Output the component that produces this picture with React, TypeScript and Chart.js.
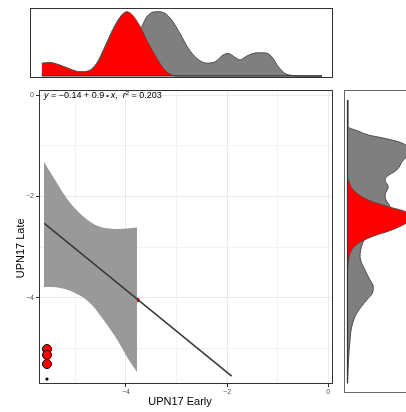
import React, { useEffect, useRef } from 'react';
import { Chart, registerables } from 'chart.js';

Chart.register(...registerables);

const FONT = '"Liberation Sans", Arial, Helvetica, sans-serif';

// ---------- main panel data ----------
const bandX = [-5.619, -5.46, -5.302, -5.144, -4.986, -4.828, -4.67, -4.512, -4.314, -4.156, -3.978, -3.781];
const bandUpper = [-1.322, -1.579, -1.835, -2.072, -2.26, -2.408, -2.526, -2.599, -2.635, -2.645, -2.635, -2.615];
const bandLower = [-3.789, -3.789, -3.809, -3.848, -3.918, -4.006, -4.144, -4.342, -4.618, -4.855, -5.171, -5.467];

const fitX = [-5.613, -1.909];
const fitY = [-2.532, -5.546];

const pointX = [-5.559, -5.559, -5.559];
const pointY = [-5.013, -5.131, -5.309];

const dotX = [-5.559];
const dotY = [-5.605];

const markX = [-3.771];
const markY = [-4.046];

const majorTicks = [-4, -2, 0];
const majorLabels = ['\u22124', '\u22122', '0'];

const xTitle = 'UPN17 Early';
const yTitle = 'UPN17 Late';
const eqIntercept = '\u22120.14';
const eqSlope = '0.9';
const eqR2 = '0.203';

// ---------- top marginal density (UPN17 Early) ----------
const topRedX = [0, 2.96, 6.53, 10.1, 13.66, 16.63, 19.62, 22.58, 25.54, 28.54, 30.32, 32.11, 35.07, 38.03, 41.03, 43.38, 45.77, 48.16, 100];
const topRedY = [0.2, 0.21, 0.17, 0.11, 0.067, 0.08, 0.2, 0.46, 0.74, 0.95, 1.0, 0.96, 0.77, 0.51, 0.28, 0.12, 0.03, 0, 0];
const topGrayX = [0, 13.66, 20.8, 27.93, 32.57, 35.68, 37.46, 39.81, 41.6, 43.99, 46.38, 49.34, 52.3, 55.3, 58.87, 61.83, 64.79, 66.57, 68.96, 70.75, 73.14, 76.7, 79.66, 82.05, 84.41, 86.8, 89.19, 92.15, 100];
const topGrayY = [0.03, 0.04, 0.12, 0.35, 0.6, 0.77, 0.92, 0.995, 1.0, 0.975, 0.87, 0.66, 0.43, 0.275, 0.2, 0.22, 0.33, 0.35, 0.29, 0.25, 0.31, 0.36, 0.36, 0.3, 0.145, 0.04, 0.01, 0, 0];

// ---------- right marginal density (UPN17 Late) ----------
const rightGrayY = [-0.099, -0.626, -0.71, -0.789, -0.849, -0.922, -0.987, -1.085, -1.184, -1.283, -1.48, -1.612, -1.678, -1.81, -1.974, -2.072, -2.21, -2.368, -2.566, -2.763, -2.96, -3.191, -3.454, -3.651, -3.783, -3.914, -4.046, -4.308, -4.573, -4.835, -5.295, -5.69];
const rightGrayD = [0.01, 0.01, 0.18, 0.356, 0.607, 0.868, 1.0, 1.1, 1.05, 0.954, 0.841, 0.67, 0.641, 0.697, 0.641, 0.658, 0.726, 0.64, 0.47, 0.333, 0.248, 0.214, 0.299, 0.385, 0.441, 0.424, 0.328, 0.157, 0.072, 0.043, 0.014, 0];
const rightRedY = [-0.099, -1.638, -1.678, -1.875, -2.072, -2.204, -2.303, -2.408, -2.532, -2.664, -2.797, -2.927, -3.059, -3.29, -3.552, -5.69];
const rightRedD = [0, 0, 0.014, 0.099, 0.356, 0.697, 1.0, 1.12, 1.0, 0.756, 0.414, 0.185, 0.072, 0.014, 0, 0];

const GRAY_FILL = '#7f7f7f';
const RED_FILL = '#ff0000';
const OUTLINE = '#4d4d4d';

const zip = (xs: number[], ys: number[]) => xs.map((x, i) => ({ x, y: ys[i] }));

const borderPlugin = (color: string) => ({
  id: 'panelBorder',
  afterDraw(chart: any) {
    const { ctx, chartArea: a } = chart;
    ctx.save();
    ctx.strokeStyle = color;
    ctx.lineWidth = 1;
    ctx.strokeRect(a.left + 0.5, a.top + 0.5, a.right - a.left - 1, a.bottom - a.top - 1);
    ctx.restore();
  },
});

function drawEquation(ctx: CanvasRenderingContext2D, x0: number, y0: number) {
  const size = 9;
  const normal = `${size}px ${FONT}`;
  const italic = `italic ${size}px ${FONT}`;
  const small = `7px ${FONT}`;
  const sup = `6px ${FONT}`;
  const parts: { t: string; f: string; dy?: number }[] = [
    { t: 'y', f: italic },
    { t: ' = ', f: normal },
    { t: eqIntercept, f: normal },
    { t: ' + ', f: normal },
    { t: eqSlope, f: normal },
    { t: ' \u2022 ', f: small },
    { t: 'x', f: italic },
    { t: ',  ', f: normal },
    { t: 'r', f: italic },
    { t: '2', f: sup, dy: -3.5 },
    { t: ' = ' + eqR2, f: normal },
  ];
  ctx.save();
  ctx.fillStyle = '#000';
  ctx.textBaseline = 'alphabetic';
  ctx.textAlign = 'left';
  let x = x0;
  for (const p of parts) {
    ctx.font = p.f;
    ctx.fillText(p.t, x, y0 + (p.dy || 0));
    x += ctx.measureText(p.t).width;
  }
  ctx.restore();
}

const textPlugin = {
  id: 'mainText',
  afterDraw(chart: any) {
    const { ctx, chartArea: a } = chart;
    drawEquation(ctx, a.left + 5, a.top + 8.3);
    ctx.save();
    ctx.fillStyle = '#000';
    ctx.font = `11px ${FONT}`;
    ctx.textAlign = 'center';
    ctx.textBaseline = 'alphabetic';
    ctx.fillText(xTitle, 180, 322.5);
    ctx.translate(24, 166.3);
    ctx.rotate(-Math.PI / 2);
    ctx.fillText(yTitle, 0, 0);
    ctx.restore();
  },
};

const isMajor = (v: number) => majorTicks.some((t) => Math.abs(t - v) < 1e-6);
const tickLabel = (v: number | string) => {
  const n = Number(v);
  const i = majorTicks.findIndex((t) => Math.abs(t - n) < 1e-6);
  return i >= 0 ? majorLabels[i] : '';
};

const axisOpts = (min: number, max: number, fit: (s: any) => void, pad: number) => ({
  type: 'linear' as const,
  min,
  max,
  border: { display: false },
  grid: {
    color: (c: any) => (isMajor(c.tick.value) ? '#e9e9e9' : '#f3f3f3'),
    lineWidth: 1,
    tickColor: (c: any) => (isMajor(c.tick.value) ? '#333333' : 'rgba(0,0,0,0)'),
    tickLength: 3,
    drawTicks: true,
  },
  ticks: {
    stepSize: 1,
    includeBounds: false,
    autoSkip: false,
    maxRotation: 0,
    padding: pad,
    color: '#4d4d4d',
    font: { size: 7, family: FONT },
    callback: tickLabel,
  },
  afterFit: fit,
});

export default function App() {
  const mainRef = useRef<HTMLCanvasElement>(null);
  const topRef = useRef<HTMLCanvasElement>(null);
  const rightRef = useRef<HTMLCanvasElement>(null);

  useEffect(() => {
    const base = {
      animation: false as const,
      responsive: false,
      plugins: { legend: { display: false }, tooltip: { enabled: false } },
    };

    const main = new Chart(mainRef.current!, {
      type: 'line',
      data: {
        datasets: [
          {
            data: zip(pointX, pointY),
            showLine: false,
            pointRadius: 4.5,
            pointBackgroundColor: '#ff0000',
            pointBorderColor: '#000000',
            pointBorderWidth: 1,
            order: 0,
          } as any,
          {
            data: zip(dotX, dotY),
            showLine: false,
            pointRadius: 1.6,
            pointBackgroundColor: '#000000',
            pointBorderColor: '#000000',
            pointBorderWidth: 0,
            order: 0,
          },
          {
            data: zip(markX, markY),
            showLine: false,
            pointRadius: 2.2,
            pointBackgroundColor: '#ff0000',
            pointBorderColor: '#ff0000',
            pointBorderWidth: 0,
            order: 4,
          },
          {
            data: zip(fitX, fitY),
            borderColor: '#3a3a3a',
            borderWidth: 1.6,
            pointRadius: 0,
            fill: false,
            order: 1,
          },
          {
            data: zip(bandX, bandUpper),
            borderColor: 'rgba(0,0,0,0)',
            borderWidth: 0,
            pointRadius: 0,
            fill: false,
            cubicInterpolationMode: 'monotone',
            order: 2,
          },
          {
            data: zip(bandX, bandLower),
            borderColor: 'rgba(0,0,0,0)',
            borderWidth: 0,
            pointRadius: 0,
            fill: '-1',
            backgroundColor: '#999999',
            cubicInterpolationMode: 'monotone',
            order: 2,
          },
        ],
      },
      options: {
        ...base,
        layout: { padding: { left: 0, top: 8, right: 7, bottom: 0 } },
        scales: {
          x: axisOpts(-5.717, 0.093, (s: any) => { s.height = 28; }, 1),
          y: axisOpts(-5.703, 0.099, (s: any) => { s.width = 39; }, 2),
        } as any,
      },
      plugins: [borderPlugin('#333333'), textPlugin],
    });

    const top = new Chart(topRef.current!, {
      type: 'line',
      data: {
        datasets: [
          {
            data: zip([0, 100], [0, 0]),
            borderColor: '#333333',
            borderWidth: 1,
            pointRadius: 0,
            fill: false,
            order: -1,
          },
          {
            data: zip(topRedX, topRedY),
            borderColor: OUTLINE,
            borderWidth: 1,
            backgroundColor: RED_FILL,
            fill: 'origin',
            pointRadius: 0,
            cubicInterpolationMode: 'monotone',
            order: 0,
          },
          {
            data: zip(topGrayX, topGrayY),
            borderColor: OUTLINE,
            borderWidth: 1,
            backgroundColor: GRAY_FILL,
            fill: 'origin',
            pointRadius: 0,
            cubicInterpolationMode: 'monotone',
            order: 1,
          },
        ],
      },
      options: {
        ...base,
        layout: { padding: 1 },
        scales: {
          x: { type: 'linear', display: false, min: -4.17, max: 103.9 },
          y: { type: 'linear', display: false, min: -0.031, max: 1.058 },
        },
      },
      plugins: [borderPlugin('#333333')],
    });

    const right = new Chart(rightRef.current!, {
      type: 'line',
      data: {
        datasets: [
          {
            data: zip([0, 0], [-0.099, -5.69]),
            borderColor: '#333333',
            borderWidth: 1.2,
            pointRadius: 0,
            fill: false,
            order: -1,
          },
          {
            data: zip(rightRedD, rightRedY),
            borderColor: OUTLINE,
            borderWidth: 1,
            backgroundColor: RED_FILL,
            fill: 'origin',
            pointRadius: 0,
            cubicInterpolationMode: 'monotone',
            order: 0,
          },
          {
            data: zip(rightGrayD, rightGrayY),
            borderColor: OUTLINE,
            borderWidth: 1,
            backgroundColor: GRAY_FILL,
            fill: 'origin',
            pointRadius: 0,
            cubicInterpolationMode: 'monotone',
            order: 1,
          },
        ],
      },
      options: {
        ...base,
        indexAxis: 'y',
        layout: { padding: { left: 1, top: 1, bottom: 1, right: 0 } },
        scales: {
          x: { type: 'linear', display: false, min: -0.0598, max: 1.2906 },
          y: { type: 'linear', display: false, min: -5.881, max: 0.099 },
        },
      },
      plugins: [borderPlugin('#666666')],
    });

    return () => {
      main.destroy();
      top.destroy();
      right.destroy();
    };
  }, []);

  return (
    <div style={{ position: 'absolute', left: 0, top: 0, width: 406, height: 412, overflow: 'hidden', background: '#fff' }}>
      <canvas ref={topRef} width={305} height={72} style={{ position: 'absolute', left: 29, top: 7, width: 305, height: 72 }} />
      <canvas ref={mainRef} width={340} height={330} style={{ position: 'absolute', left: 0, top: 82, width: 340, height: 330 }} />
      <canvas ref={rightRef} width={80} height={305} style={{ position: 'absolute', left: 343, top: 89, width: 80, height: 305 }} />
    </div>
  );
}
